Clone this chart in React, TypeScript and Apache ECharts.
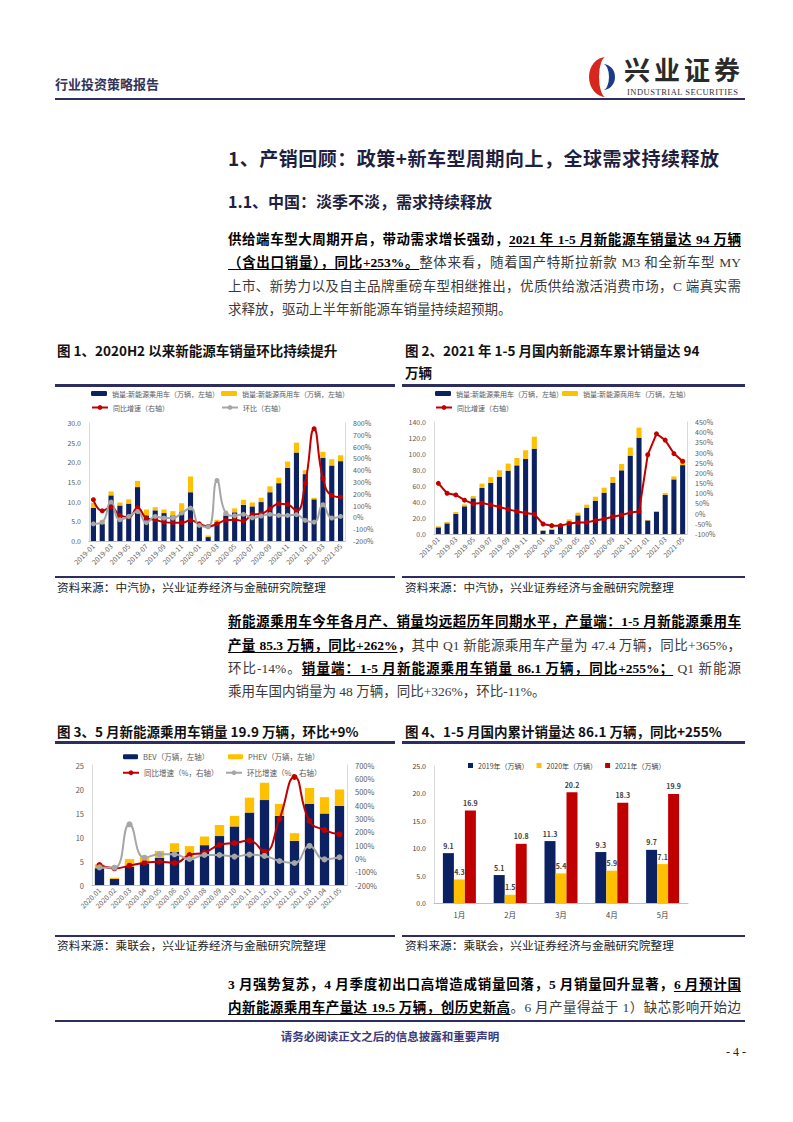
import React, { useEffect, useRef } from "react";
import * as echarts from "echarts";

// ---------------- DATA ----------------
const months1 = [
  "2019-01","2019-02","2019-03","2019-04","2019-05","2019-06","2019-07","2019-08","2019-09","2019-10","2019-11","2019-12",
  "2020-01","2020-02","2020-03","2020-04","2020-05","2020-06","2020-07","2020-08","2020-09","2020-10","2020-11","2020-12",
  "2021-01","2021-02","2021-03","2021-04","2021-05",
];
// Fig1 monthly sales (万辆)
const pvSales1 = [8.4, 4.3, 11.6, 9.0, 9.5, 13.7, 6.5, 7.8, 7.1, 6.5, 7.4, 12.4, 4.0, 1.0, 4.8, 6.5, 7.3, 9.2, 8.8, 9.9, 12.4, 14.7, 18.6, 22.5, 17.0, 10.6, 21.1, 19.2, 20.3];
const cvSales1 = [1.3, 1.0, 1.0, 0.8, 1.1, 1.6, 1.5, 0.8, 0.9, 1.1, 2.2, 4.0, 0.4, 0.4, 0.6, 0.7, 1.0, 1.3, 1.0, 1.1, 1.5, 1.4, 1.6, 2.5, 1.0, 0.4, 1.6, 1.6, 1.5];
const yoy1 = [150, 56, 88, 17, 3, 82, -5, -20, -40, -45, -45, -25, -55, -77, -55, -25, -20, -30, 23, 31, 73, 116, 110, 54, 291, 751, 330, 186, 172];
const mom1 = [-55, -40, 130, -20, 8, 50, -45, 8, -5, -5, 37, 79, -68, -80, 313, 37, 14, 26, -3, 12, 26, 17, 17, 23, -25, -40, 107, -5, 8];

// Fig2 cumulative sales (万辆)
const pvCum2 = [8.3, 13.3, 25.0, 34.6, 44.6, 57.5, 64.0, 71.7, 79.2, 85.8, 93.7, 106.7, 4.2, 5.4, 10.4, 15.8, 23.3, 33.0, 41.7, 51.7, 64.2, 79.6, 98.0, 120.4, 17.0, 27.5, 48.8, 68.3, 86.1];
const cvCum2 = [1.3, 1.7, 2.5, 2.4, 2.9, 5.5, 7.0, 7.9, 8.8, 9.2, 10.9, 15.0, 0.4, 1.2, 2.1, 2.5, 3.4, 3.7, 5.0, 6.2, 7.1, 7.9, 10.0, 12.6, 0.5, 1.3, 2.5, 3.7, 7.9];
const yoy2 = [149, 100, 92, 66, 48, 52, 43, 33, 21, 11, 3, -3, -51, -59, -59, -49, -44, -43, -34, -26, -15, -7, 5, 10, 289, 392, 361, 295, 257];

// Fig3 BEV / PHEV monthly (万辆)
const months3 = ["2020.01","2020.02","2020.03","2020.04","2020.05","2020.06","2020.07","2020.08","2020.09","2020.10","2020.11","2020.12","2021.01","2021.02","2021.03","2021.04","2021.05"];
const bev3 = [3.5, 1.25, 3.8, 4.5, 5.7, 6.9, 5.2, 8.3, 10.2, 12.2, 15.1, 17.7, 14.4, 9.2, 16.9, 14.9, 16.5];
const phev3 = [0.8, 0.25, 1.6, 1.4, 1.4, 1.8, 2.9, 1.8, 2.3, 2.2, 3.1, 3.6, 2.5, 1.6, 3.3, 3.4, 3.4];
const yoy3 = [-50, -75, -55, -33, -25, -35, 25, 43, 100, 115, 133, 50, 295, 610, 280, 212, 180];
const mom3 = [-68, -70, 255, 5, 30, 30, -5, 25, 25, 13, 28, 18, -20, -35, 93, -8, 8];

// Fig4 monthly by year (万辆)
const cats4 = ["1月", "2月", "3月", "4月", "5月"];
const y2019 = [9.1, 5.1, 11.3, 9.3, 9.7];
const y2020 = [4.3, 1.5, 5.4, 5.9, 7.1];
const y2021 = [16.9, 10.8, 20.2, 18.3, 19.9];

// ---------------- STYLE ----------------
const NAVY = "#0B2161";
const YELLOW = "#FFC000";
const RED = "#C00000";
const GRAY = "#A6A6A6";
const LABEL = "#595959";
const CJK = "'Noto Sans CJK SC', 'Noto Sans', sans-serif";
const SERIF = "'Liberation Serif', 'Noto Sans CJK SC', serif";
const DARK = "#2D2D60";

const baseAxisLabel = { fontSize: 7, color: LABEL, fontFamily: CJK };
const vLine = { show: true, lineStyle: { color: "#D9D9D9", width: 1 } };

function lineSeries(name: string, data: number[], color: string, smooth: boolean, size = 5) {
  return {
    name, type: "line", yAxisIndex: 1, data, smooth, symbol: "circle", symbolSize: size,
    lineStyle: { width: 2, color }, itemStyle: { color }, z: 5,
  };
}

function opt1() {
  return {
    animation: false,
    textStyle: { fontFamily: CJK },
    legend: [
      { data: ["销量:新能源乘用车（万辆，左轴）"], left: 36, top: 4, itemWidth: 16, itemHeight: 5, textStyle: { fontSize: 7, color: LABEL }, padding: 0 },
      { data: ["销量:新能源商用车（万辆，左轴）"], left: 166, top: 4, itemWidth: 16, itemHeight: 5, textStyle: { fontSize: 7, color: LABEL }, padding: 0 },
      { data: ["同比增速（右轴）"], left: 36, top: 18, itemWidth: 16, itemHeight: 6, textStyle: { fontSize: 7, color: LABEL }, padding: 0 },
      { data: ["环比（右轴）"], left: 166, top: 18, itemWidth: 16, itemHeight: 6, textStyle: { fontSize: 7, color: LABEL }, padding: 0 },
    ],
    grid: { left: 34, right: 50, top: 37, height: 118 },
    xAxis: {
      type: "category", data: months1,
      axisLine: { lineStyle: { color: "#BFBFBF" } }, axisTick: { show: false },
      axisLabel: { ...baseAxisLabel, interval: 1, rotate: 45, margin: 4 },
    },
    yAxis: [
      { type: "value", min: 0, max: 30, interval: 5, axisLine: vLine, splitLine: { show: false },
        axisLabel: { ...baseAxisLabel, formatter: (v: number) => v.toFixed(1) } },
      { type: "value", min: -200, max: 800, interval: 100, position: "right", axisLine: vLine, splitLine: { show: false },
        axisLabel: { ...baseAxisLabel, formatter: "{value}%" } },
    ],
    series: [
      { name: "销量:新能源乘用车（万辆，左轴）", type: "bar", stack: "s", data: pvSales1, barWidth: "58%", itemStyle: { color: NAVY } },
      { name: "销量:新能源商用车（万辆，左轴）", type: "bar", stack: "s", data: cvSales1, itemStyle: { color: YELLOW } },
      lineSeries("同比增速（右轴）", yoy1, RED, true),
      lineSeries("环比（右轴）", mom1, GRAY, true),
    ],
  };
}

function opt2() {
  return {
    animation: false,
    textStyle: { fontFamily: CJK },
    legend: [
      { data: ["销量:新能源乘用车（万辆，左轴）"], left: 35, top: 4, itemWidth: 16, itemHeight: 5, textStyle: { fontSize: 7, color: LABEL }, padding: 0 },
      { data: ["销量:新能源商用车（万辆，左轴）"], left: 162, top: 4, itemWidth: 16, itemHeight: 5, textStyle: { fontSize: 7, color: LABEL }, padding: 0 },
      { data: ["同比增速（右轴）"], left: 35, top: 18, itemWidth: 16, itemHeight: 6, textStyle: { fontSize: 7, color: LABEL }, padding: 0 },
    ],
    grid: { left: 34, right: 58, top: 36, height: 112 },
    xAxis: {
      type: "category", data: months1,
      axisLine: { lineStyle: { color: "#BFBFBF" } }, axisTick: { show: false },
      axisLabel: { ...baseAxisLabel, interval: 1, rotate: 45, margin: 4 },
    },
    yAxis: [
      { type: "value", min: 0, max: 140, interval: 20, axisLine: vLine, splitLine: { show: false },
        axisLabel: { ...baseAxisLabel, formatter: (v: number) => v.toFixed(1) } },
      { type: "value", min: -100, max: 450, interval: 50, position: "right", axisLine: vLine, splitLine: { show: false },
        axisLabel: { ...baseAxisLabel, formatter: "{value}%" } },
    ],
    series: [
      { name: "销量:新能源乘用车（万辆，左轴）", type: "bar", stack: "s", data: pvCum2, barWidth: "58%", itemStyle: { color: NAVY } },
      { name: "销量:新能源商用车（万辆，左轴）", type: "bar", stack: "s", data: cvCum2, itemStyle: { color: YELLOW } },
      lineSeries("同比增速（右轴）", yoy2, RED, false),
    ],
  };
}

function opt3() {
  return {
    animation: false,
    textStyle: { fontFamily: CJK },
    legend: [
      { data: ["BEV（万辆，左轴）"], left: 68, top: 8, itemWidth: 15, itemHeight: 5, textStyle: { fontSize: 7.5, color: LABEL }, padding: 0 },
      { data: ["PHEV（万辆，左轴）"], left: 173, top: 8, itemWidth: 15, itemHeight: 5, textStyle: { fontSize: 7.5, color: LABEL }, padding: 0 },
      { data: ["同比增速（%，右轴）"], left: 67, top: 24, itemWidth: 16, itemHeight: 6, textStyle: { fontSize: 7.5, color: LABEL }, padding: 0 },
      { data: ["环比增速（%，右轴）"], left: 170, top: 24, itemWidth: 16, itemHeight: 6, textStyle: { fontSize: 7.5, color: LABEL }, padding: 0 },
    ],
    grid: { left: 37, right: 48, top: 20, height: 120 },
    xAxis: {
      type: "category", data: months3,
      axisLine: { lineStyle: { color: "#BFBFBF" } }, axisTick: { show: false },
      axisLabel: { ...baseAxisLabel, interval: 0, rotate: 45, margin: 4 },
    },
    yAxis: [
      { type: "value", min: 0, max: 25, interval: 5, axisLine: vLine, splitLine: { show: false },
        axisLabel: { ...baseAxisLabel, fontSize: 7.5 } },
      { type: "value", min: -200, max: 700, interval: 100, position: "right", axisLine: vLine, splitLine: { show: false },
        axisLabel: { ...baseAxisLabel, fontSize: 7.5, formatter: "{value}%" } },
    ],
    series: [
      { name: "BEV（万辆，左轴）", type: "bar", stack: "s", data: bev3, barWidth: "62%", itemStyle: { color: NAVY } },
      { name: "PHEV（万辆，左轴）", type: "bar", stack: "s", data: phev3, itemStyle: { color: YELLOW } },
      lineSeries("同比增速（%，右轴）", yoy3, RED, true, 6),
      lineSeries("环比增速（%，右轴）", mom3, GRAY, true, 6),
    ],
  };
}

function opt4() {
  const lab = { show: true, position: "top", distance: 4, fontSize: 7, fontWeight: "bold", color: "#404040", formatter: (p: any) => p.value.toFixed(1) };
  return {
    animation: false,
    textStyle: { fontFamily: CJK },
    legend: {
      data: ["2019年（万辆）", "2020年（万辆）", "2021年（万辆）"], left: 68, top: 17,
      itemWidth: 5, itemHeight: 5, itemGap: 8, icon: "rect", padding: 0,
      textStyle: { fontSize: 7, color: "#404040" },
    },
    grid: { left: 34, right: 57, top: 21, height: 137 },
    xAxis: {
      type: "category", data: cats4,
      axisLine: { lineStyle: { color: "#BFBFBF" } }, axisTick: { show: false },
      axisLabel: { fontSize: 7.5, color: "#404040", margin: 8 },
    },
    yAxis: {
      type: "value", min: 0, max: 25, interval: 5, axisLine: vLine, splitLine: { show: false },
      axisLabel: { ...baseAxisLabel, color: "#404040", formatter: (v: number) => v.toFixed(1) },
    },
    series: [
      { name: "2019年（万辆）", type: "bar", data: y2019, barWidth: 11, barGap: "0%", itemStyle: { color: NAVY }, label: lab },
      { name: "2020年（万辆）", type: "bar", data: y2020, barWidth: 11, barGap: "0%", itemStyle: { color: YELLOW }, label: lab },
      { name: "2021年（万辆）", type: "bar", data: y2021, barWidth: 11, barGap: "0%", itemStyle: { color: RED }, label: lab },
    ],
  };
}

function Chart({ option, style }: { option: any; style: React.CSSProperties }) {
  const ref = useRef<HTMLDivElement>(null);
  useEffect(() => {
    if (!ref.current) return;
    const c = echarts.init(ref.current, undefined, { renderer: "svg" });
    c.setOption(option);
    return () => c.dispose();
  }, []);
  return <div ref={ref} style={{ position: "absolute", ...style }} />;
}

type Seg = { t: string; b?: boolean; u?: boolean };

function TLine({ top, segs, last = false }: { top: number; segs: Seg[]; last?: boolean }) {
  return (
    <div
      style={{
        position: "absolute", left: 228, top, width: 513, fontSize: 13.5, lineHeight: "18px",
        fontFamily: SERIF, color: "#3a3a3a", textAlign: last ? "left" : "justify",
        textAlignLast: last ? "left" : "justify", whiteSpace: "normal",
      } as React.CSSProperties}
    >
      {segs.map((s, i) => (
        <span
          key={i}
          style={{
            fontWeight: s.b ? 700 : 400, color: s.b ? "#000" : "#3a3a3a",
            textDecoration: s.u ? "underline" : "none", textUnderlineOffset: 2, textDecorationThickness: 1,
          } as React.CSSProperties}
        >
          {s.t}
        </span>
      ))}
    </div>
  );
}

const abs = (s: React.CSSProperties): React.CSSProperties => ({ position: "absolute", ...s });

export default function App() {
  useEffect(() => {
    document.body.style.margin = "0";
  }, []);
  const figTitle: React.CSSProperties = { fontSize: 13.5, fontWeight: 700, lineHeight: "18px", fontFamily: CJK, color: "#111", whiteSpace: "nowrap" };
  const src: React.CSSProperties = { fontSize: 11.7, lineHeight: "16px", fontFamily: CJK, color: "#222", whiteSpace: "nowrap" };
  return (
    <div style={{ position: "absolute", left: 0, top: 0, width: 793, height: 1122, background: "#fff", overflow: "hidden", fontFamily: CJK }}>
      {/* header */}
      <div style={abs({ left: 55, top: 75, fontSize: 13, fontWeight: 700, lineHeight: "18px", color: "#33335a" })}>行业投资策略报告</div>
      <svg style={abs({ left: 586, top: 56 })} width="36" height="42" viewBox="0 0 36 42">
        <path d="M20 1 A17 20 0 1 0 20 41 A7 20 0 1 1 20 1 Z" fill="#D7261E" />
        <path d="M17 8 A12 13 0 0 1 17 34 A6 13 0 0 0 17 8 Z" fill="#1B3A8C" />
      </svg>
      <div style={abs({ left: 624, top: 55, fontSize: 26, fontWeight: 700, lineHeight: "28px", color: "#2a2a2a", letterSpacing: 4, fontFamily: CJK, whiteSpace: "nowrap" })}>兴业证券</div>
      <div style={abs({ left: 627, top: 87, fontSize: 8.5, lineHeight: "10px", color: "#333", letterSpacing: 0.5, fontFamily: "'Liberation Serif', serif", whiteSpace: "nowrap" })}>INDUSTRIAL SECURITIES</div>
      <div style={abs({ left: 55, top: 98, width: 690, height: 1.5, background: DARK })} />

      {/* headings */}
      <div style={abs({ left: 228, top: 147, fontSize: 19, fontWeight: 700, lineHeight: "22px", color: "#1f1f3f", letterSpacing: 0.5, whiteSpace: "nowrap" })}>1、产销回顾：政策+新车型周期向上，全球需求持续释放</div>
      <div style={abs({ left: 228, top: 191, fontSize: 16, fontWeight: 700, lineHeight: "20px", color: "#1f1f3f", whiteSpace: "nowrap" })}>1.1、中国：淡季不淡，需求持续释放</div>

      {/* paragraph 1 */}
      <TLine top={231} segs={[{ t: "供给端车型大周期开启，带动需求增长强劲，", b: true }, { t: "2021 年 1-5 月新能源车销量达 94 万辆", b: true, u: true }]} />
      <TLine top={254} segs={[{ t: "（含出口销量），同比+253%。", b: true, u: true }, { t: "整体来看，随着国产特斯拉新款 M3 和全新车型 MY" }]} />
      <TLine top={278} segs={[{ t: "上市、新势力以及自主品牌重磅车型相继推出，优质供给激活消费市场，C 端真实需" }]} />
      <TLine top={301} last segs={[{ t: "求释放，驱动上半年新能源车销量持续超预期。" }]} />

      {/* figure 1/2 titles */}
      <div style={abs({ left: 57, top: 341, ...figTitle })}>图 1、2020H2 以来新能源车销量环比持续提升</div>
      <div style={abs({ left: 405, top: 341, ...figTitle })}>图 2、2021 年 1-5 月国内新能源车累计销量达 94</div>
      <div style={abs({ left: 405, top: 363, ...figTitle })}>万辆</div>
      <div style={abs({ left: 55, top: 384, width: 340, height: 3, background: DARK })} />
      <div style={abs({ left: 402, top: 384, width: 343, height: 3, background: DARK })} />

      <Chart option={opt1()} style={{ left: 55, top: 386, width: 340, height: 190 }} />
      <Chart option={opt2()} style={{ left: 400, top: 386, width: 345, height: 190 }} />

      <div style={abs({ left: 55, top: 576, width: 340, height: 2, background: DARK })} />
      <div style={abs({ left: 402, top: 576, width: 343, height: 2, background: DARK })} />
      <div style={abs({ left: 57, top: 579, ...src })}>资料来源：中汽协，兴业证券经济与金融研究院整理</div>
      <div style={abs({ left: 405, top: 579, ...src })}>资料来源：中汽协，兴业证券经济与金融研究院整理</div>

      {/* paragraph 2 */}
      <TLine top={613} segs={[{ t: "新能源乘用车今年各月产、销量均远超历年同期水平，产量端：1-5 月新能源乘用车", b: true, u: true }]} />
      <TLine top={637} segs={[{ t: "产量 85.3 万辆，同比+262%", b: true, u: true }, { t: "，", b: true }, { t: "其中 Q1 新能源乘用车产量为 47.4 万辆，同比+365%，" }]} />
      <TLine top={660} segs={[{ t: "环比-14%。" }, { t: "销量端：1-5 月新能源乘用车销量 86.1 万辆，同比+255%；", b: true, u: true }, { t: " Q1 新能源" }]} />
      <TLine top={683} last segs={[{ t: "乘用车国内销量为 48 万辆，同比+326%，环比-11%。" }]} />

      {/* figure 3/4 titles */}
      <div style={abs({ left: 57, top: 722, ...figTitle })}>图 3、5 月新能源乘用车销量 19.9 万辆，环比+9%</div>
      <div style={abs({ left: 405, top: 722, ...figTitle })}>图 4、1-5 月国内累计销量达 86.1 万辆，同比+255%</div>
      <div style={abs({ left: 55, top: 741, width: 340, height: 3, background: DARK })} />
      <div style={abs({ left: 402, top: 741, width: 343, height: 3, background: DARK })} />

      <Chart option={opt3()} style={{ left: 55, top: 745, width: 340, height: 190 }} />
      <Chart option={opt4()} style={{ left: 400, top: 745, width: 345, height: 190 }} />

      <div style={abs({ left: 55, top: 935, width: 340, height: 2, background: DARK })} />
      <div style={abs({ left: 402, top: 935, width: 343, height: 2, background: DARK })} />
      <div style={abs({ left: 57, top: 937, ...src })}>资料来源：乘联会，兴业证券经济与金融研究院整理</div>
      <div style={abs({ left: 405, top: 937, ...src })}>资料来源：乘联会，兴业证券经济与金融研究院整理</div>

      {/* paragraph 3 */}
      <TLine top={976} segs={[{ t: "3 月强势复苏，4 月季度初出口高增造成销量回落，5 月销量回升显著，", b: true }, { t: "6 月预计国", b: true, u: true }]} />
      <TLine top={999} segs={[{ t: "内新能源乘用车产量达 19.5 万辆，创历史新高", b: true, u: true }, { t: "。6 月产量得益于 1）缺芯影响开始边" }]} />

      {/* footer */}
      <div style={abs({ left: 55, top: 1020, width: 690, height: 2, background: DARK })} />
      <div style={abs({ left: 0, top: 1028, width: 780, textAlign: "center", fontSize: 11.5, fontWeight: 700, lineHeight: "16px", color: "#3B3B7A" })}>请务必阅读正文之后的信息披露和重要声明</div>
      <div style={abs({ left: 726, top: 1044, fontSize: 12, lineHeight: "16px", color: "#222", fontFamily: SERIF, whiteSpace: "nowrap" })}>- 4 -</div>
    </div>
  );
}
